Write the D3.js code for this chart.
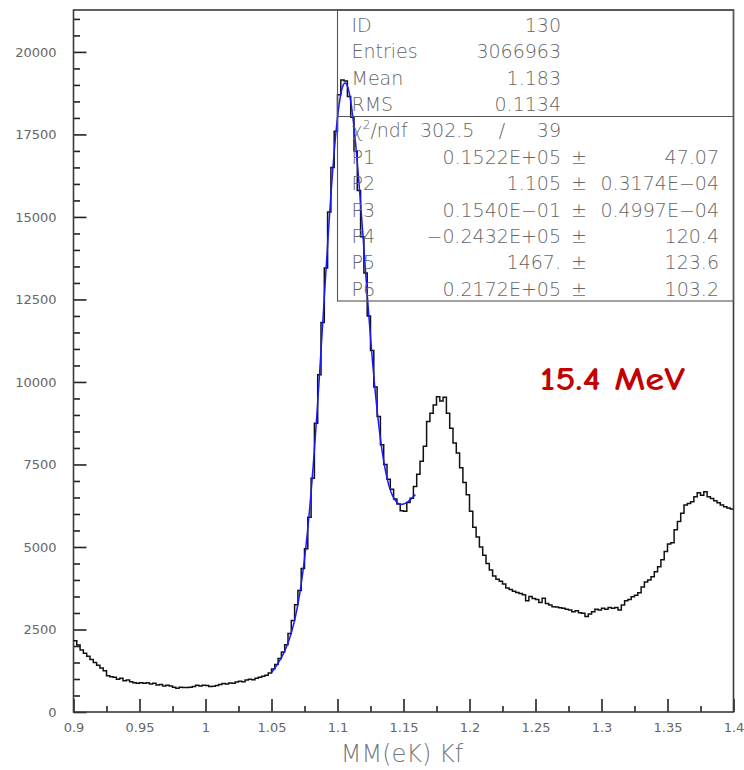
<!DOCTYPE html>
<html>
<head>
<meta charset="utf-8">
<script src="https://cdn.jsdelivr.net/npm/d3@7/dist/d3.min.js"></script>
<style>
  html, body { margin: 0; padding: 0; background: #ffffff; }
  svg { display: block; }
</style>
</head>
<body>
<div id="chart"></div>
<script>
// Histogram definition: 200 bins of MM(eK) between 0.9 and 1.4
const xMin = 0.9;
const xMax = 1.4;
const binWidth = 0.0025;

// Entries per bin
const counts = [
  2160, 2030, 1880, 1780, 1690, 1590, 1500, 1420, 1330, 1250,
  1100, 1070, 1050,  990, 1020,  950,  970,  920,  890,  870,
   890,  870,  890,  850,  870,  820,  830,  790,  810,  790,
   750,  720,  750,  740,  740,  750,  770,  810,  790,  810,
   800,  770,  780,  800,  830,  860,  850,  880,  870,  910,
   930,  920,  970,  990,  980, 1020, 1050, 1080, 1110, 1180,
  1300, 1440, 1620, 1820, 2040, 2380, 2770, 3250, 3680, 4350,
  4950, 5900, 7080, 8750,10220,11800,13450,15150,16500,17600,
 18700,19150,19120,18650,18020,17000,15800,14400,13300,12000,
 10950, 9850, 8950, 8100, 7500, 7050, 6750, 6450, 6300, 6100,
  6080, 6350, 6480, 6830, 7200, 7600, 8050, 8800, 9050, 9300,
  9550, 9420, 9540, 9050, 8600, 8150, 7850, 7400, 6950, 6580,
  6080, 5600, 5300, 5000, 4750, 4500, 4300, 4120, 4020, 3960,
  3880, 3760, 3710, 3660, 3620, 3590, 3550, 3370, 3500, 3440,
  3410, 3320, 3450, 3290, 3240, 3190, 3180, 3160, 3140, 3110,
  3090, 3040, 3070, 3010, 2990, 2890, 2970, 3040, 3110, 3090,
  3140, 3110, 3170, 3140, 3170, 3090, 3240, 3370, 3410, 3490,
  3540, 3610, 3790, 3940, 4000, 4100, 4250, 4400, 4610, 4860,
  5090, 5130, 5520, 5770, 6020, 6270, 6320, 6370, 6520, 6640,
  6570, 6670, 6520, 6470, 6400, 6340, 6270, 6220, 6180, 6150
];

// Fit: gaussian (P1..P3) + quadratic background (P4..P6), fitted over [1.05, 1.159]
const fitParams = [15220, 1.105, 0.01540, -24320, 1467, 21720];
const fitRange = [1.05, 1.159];

// Axis ticks
const xTicks = [0.9, 0.95, 1, 1.05, 1.1, 1.15, 1.2, 1.25, 1.3, 1.35, 1.4];
const xMinorTicks = [0.925, 0.975, 1.025, 1.075, 1.125, 1.175, 1.225, 1.275, 1.325, 1.375];
const yTicks = [0, 2500, 5000, 7500, 10000, 12500, 15000, 17500, 20000];
const yMinorTicks = d3.range(0, 21001, 500).filter(v => v % 2500 !== 0);
const yTop = 21270;

// Statistics box
const statRows = [
  ["ID", "130", "", ""],
  ["Entries", "3066963", "", ""],
  ["Mean", "1.183", "", ""],
  ["RMS", "0.1134", "", ""]
];
const fitRows = [
  ["P1", "0.1522E+05", "±", "47.07"],
  ["P2", "1.105", "±", "0.3174E\u221204"],
  ["P3", "0.1540E\u221201", "±", "0.4997E\u221204"],
  ["P4", "\u22120.2432E+05", "±", "120.4"],
  ["P5", "1467.", "±", "123.6"],
  ["P6", "0.2172E+05", "±", "103.2"]
];
const chi2 = "302.5";
const ndf = "39";

const xTitle = "MM(eK) Kf";
const energyLabel = "15.4 MeV";

// ---------------------------------------------------------------
const W = 744, H = 770;
const plot = { left: 73.5, right: 733.5, top: 10, bottom: 712 };

const svg = d3.select("#chart").append("svg")
  .attr("width", W).attr("height", H)
  .attr("viewBox", `0 0 ${W} ${H}`);

const x = d3.scaleLinear().domain([xMin, xMax]).range([plot.left, plot.right]);
const y = d3.scaleLinear().domain([0, yTop]).range([plot.bottom, plot.top]);

const labelFont = "'DejaVu Sans', 'Liberation Sans', sans-serif";
const textGrey = "#666666";

// Y axis: major + minor ticks pointing inward
const yAxis = svg.append("g").attr("transform", `translate(${plot.left},0)`)
  .call(d3.axisLeft(y).tickValues(yTicks).tickSize(-13).tickPadding(17).tickFormat(d3.format("d")));
const yMinor = svg.append("g").attr("transform", `translate(${plot.left},0)`)
  .call(d3.axisLeft(y).tickValues(yMinorTicks).tickSize(-6.5).tickFormat(""));

// X axis
const xAxis = svg.append("g").attr("transform", `translate(0,${plot.bottom})`)
  .call(d3.axisBottom(x).tickValues(xTicks).tickSize(-13).tickPadding(11).tickFormat(d => String(d)));
const xMinor = svg.append("g").attr("transform", `translate(0,${plot.bottom})`)
  .call(d3.axisBottom(x).tickValues(xMinorTicks).tickSize(-6).tickFormat(""));

[yAxis, yMinor, xAxis, xMinor].forEach(g => {
  g.select(".domain").remove();
  g.selectAll(".tick line").attr("stroke", "#222").attr("stroke-width", 1.6);
  g.selectAll(".tick text")
    .attr("fill", textGrey)
    .style("font-family", labelFont)
    .style("font-size", "13px");
});

// Plot frame
svg.append("rect")
  .attr("x", plot.left).attr("y", plot.top)
  .attr("width", plot.right - plot.left).attr("height", plot.bottom - plot.top)
  .attr("fill", "none").attr("stroke", "#3a3a3a").attr("stroke-width", 1.6);

// Histogram outline as a step path
const stepPts = [];
counts.forEach((c, i) => {
  const lo = xMin + i * binWidth, hi = lo + binWidth;
  stepPts.push([lo, c], [hi, c]);
});
const lineGen = d3.line().x(d => x(d[0])).y(d => y(d[1]));
svg.append("path")
  .attr("d", lineGen(stepPts))
  .attr("fill", "none").attr("stroke", "#111").attr("stroke-width", 1.5)
  .attr("stroke-linejoin", "miter");

// Fit curve
const [p1, p2, p3, p4, p5, p6] = fitParams;
const fitFn = m => p1 * Math.exp(-0.5 * Math.pow((m - p2) / p3, 2)) + p4 + p5 * m + p6 * m * m;
const fitX = d3.range(fitRange[0], fitRange[1], 0.0004).concat([fitRange[1]]);
svg.append("path")
  .attr("d", d3.line().x(m => x(m)).y(m => y(fitFn(m))).curve(d3.curveLinear)(fitX))
  .attr("fill", "none").attr("stroke", "#1a1aff").attr("stroke-width", 1.5);

// Statistics box
const box = { left: 337.5, right: plot.right, top: plot.top, split: 116.5, bottom: 301 };
const boxG = svg.append("g");
boxG.append("rect")
  .attr("x", box.left).attr("y", box.top)
  .attr("width", box.right - box.left).attr("height", box.bottom - box.top)
  .attr("fill", "none").attr("stroke", "#555").attr("stroke-width", 1.1);
boxG.append("line")
  .attr("x1", box.left).attr("x2", box.right).attr("y1", box.split).attr("y2", box.split)
  .attr("stroke", "#555").attr("stroke-width", 1.1);

const rowH = 26.4, firstBase = 31.7;
const colLabel = 351.5, colValue = 561, colPm = 579, colErr = 719;
const statStyle = sel => sel
  .attr("fill", textGrey)
  .style("font-family", labelFont)
  .style("font-size", "19px")
  .style("font-weight", 200);

const allRows = statRows.concat([null], fitRows);
allRows.forEach((r, k) => {
  const by = firstBase + k * rowH;
  if (r === null) {
    // chi-square line
    const t = boxG.append("text").attr("x", colLabel).attr("y", by).call(statStyle);
    t.append("tspan").text("\u03c7");
    t.append("tspan").attr("dy", -8).style("font-size", "12px").text("2");
    t.append("tspan").attr("dy", 8).text("/ndf");
    boxG.append("text").attr("x", 420).attr("y", by).call(statStyle).text(chi2);
    boxG.append("text").attr("x", 502).attr("y", by).attr("text-anchor", "middle").call(statStyle).text("/");
    boxG.append("text").attr("x", colValue).attr("y", by).attr("text-anchor", "end").call(statStyle).text(ndf);
    return;
  }
  boxG.append("text").attr("x", colLabel).attr("y", by).call(statStyle).text(r[0]);
  boxG.append("text").attr("x", colValue).attr("y", by).attr("text-anchor", "end").call(statStyle).text(r[1]);
  if (r[2]) boxG.append("text").attr("x", colPm).attr("y", by).attr("text-anchor", "middle").call(statStyle).text(r[2]);
  if (r[3]) boxG.append("text").attr("x", colErr).attr("y", by).attr("text-anchor", "end").call(statStyle).text(r[3]);
});

// Axis title
svg.append("text")
  .attr("x", 402).attr("y", 762)
  .attr("text-anchor", "middle")
  .attr("fill", "#777")
  .style("font-family", labelFont)
  .style("font-size", "24px")
  .style("font-weight", 200)
  .text(xTitle);

// Beam energy annotation
svg.append("text")
  .attr("x", 540).attr("y", 390)
  .attr("textLength", 145).attr("lengthAdjust", "spacingAndGlyphs")
  .attr("fill", "#c40000")
  .style("font-family", "'Comic Sans MS', 'Comic Neue', 'Open Sans', sans-serif")
  .style("font-size", "33px")
  .style("font-weight", 600)
  .text(energyLabel);
</script>
</body>
</html>
